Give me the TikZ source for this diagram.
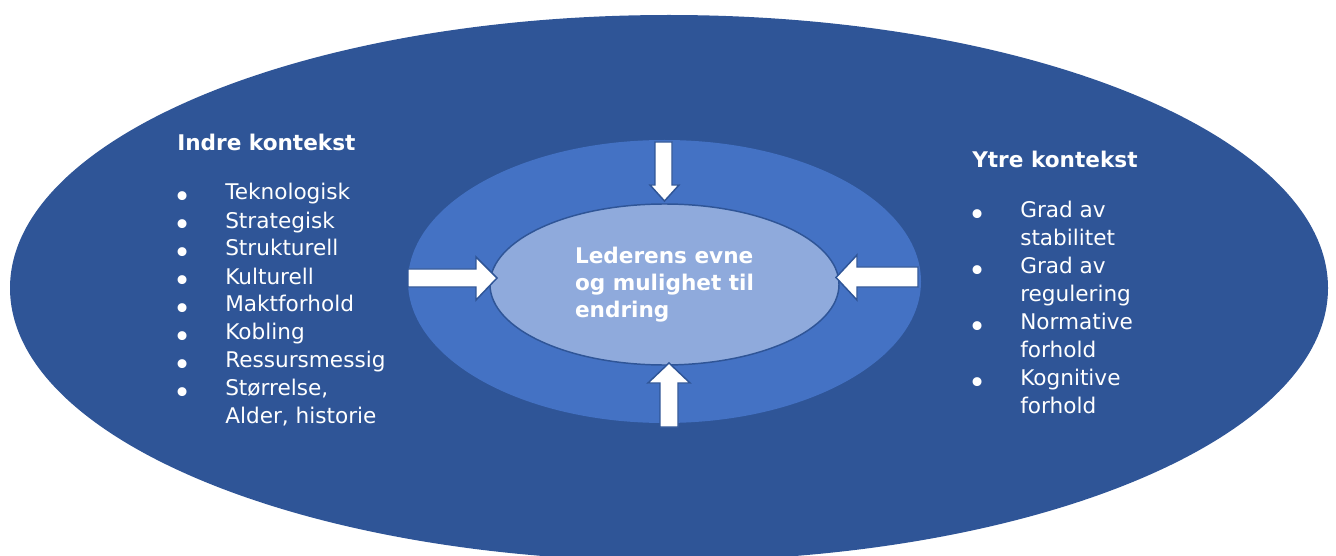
\documentclass[tikz,border=0pt]{standalone}
\usepackage{fontspec}
\setmainfont{DejaVu Sans}
\usetikzlibrary{shapes.geometric}

\definecolor{ytreblaa}{RGB}{47,85,151}
\definecolor{midtblaa}{RGB}{68,114,196}
\definecolor{indreblaa}{RGB}{143,170,220}

\newcommand{\punkt}{\hspace*{-3pt}\raisebox{-5.5pt}{\fontsize{23}{21}\selectfont\textbullet}}

\tikzset{
  blokkpil/.style={fill=white, draw=ytreblaa, line width=1.1pt, line join=miter},
  tekst/.style={text=white, inner sep=0pt, anchor=base west, font=\fontsize{16.2}{21}\selectfont},
}

\begin{document}
\begin{tikzpicture}[x=0.75pt,y=0.75pt,yscale=-1,xscale=1]
\useasboundingbox (0,0) rectangle (1336,556);
\clip (0,0) rectangle (1336,556);

%Shape: Ellipse [ytre]
\node [ellipse, fill=ytreblaa, inner sep=0pt, minimum width=988.5pt, minimum height=409.5pt] (ytre) at (669,288) {};
%Shape: Ellipse [midt]
\node [ellipse, fill=midtblaa, inner sep=0pt, minimum width=384.75pt, minimum height=212.25pt] (midt) at (664.5,281.5) {};
%Shape: Ellipse [indre]
\node [ellipse, fill=indreblaa, draw=ytreblaa, line width=1.1pt, inner sep=0pt, minimum width=261.75pt, minimum height=120.75pt,
  text=white, align=left, font=\fontsize{16.2}{20.25}\selectfont\bfseries] (leder) at (664.5,284.5) {Lederens evne\\og mulighet til\\endring};

%Block Arrow [top]
\draw [blokkpil] (655,142) -- (672,142) -- (672,185) -- (679,185) -- (664.5,201) -- (650,185) -- (655,185) -- cycle ;
%Block Arrow [bottom]
\draw [blokkpil] (660,427) -- (678,427) -- (678,383) -- (690,383) -- (669,363) -- (648,383) -- (660,383) -- cycle ;
%Block Arrow [left]
\draw [blokkpil] (408,269) -- (476,269) -- (476,257) -- (497,278) -- (476,300) -- (476,287) -- (408,287) -- cycle ;
%Block Arrow [right]
\draw [blokkpil] (918,267) -- (857,267) -- (857,255) -- (836,277.5) -- (857,300) -- (857,287) -- (918,287) -- cycle ;

% Text Node
\node [tekst] (indre) at (177,151) {\bfseries Indre kontekst};
\node [tekst] (indreliste) at (177,200) {\begin{tabular}[t]{@{}p{36pt}@{}l@{}}
\punkt & Teknologisk\\
\punkt & Strategisk\\
\punkt & Strukturell\\
\punkt & Kulturell\\
\punkt & Maktforhold\\
\punkt & Kobling\\
\punkt & Ressursmessig\\
\punkt & Størrelse,\\
 & Alder, historie
\end{tabular}};

% Text Node
\node [tekst] (ytrekontekst) at (972,168) {\bfseries Ytre kontekst};
\node [tekst] (ytreliste) at (972,218) {\begin{tabular}[t]{@{}p{36pt}@{}l@{}}
\punkt & Grad av\\
 & stabilitet\\
\punkt & Grad av\\
 & regulering\\
\punkt & Normative\\
 & forhold\\
\punkt & Kognitive\\
 & forhold
\end{tabular}};

\end{tikzpicture}
\end{document}
